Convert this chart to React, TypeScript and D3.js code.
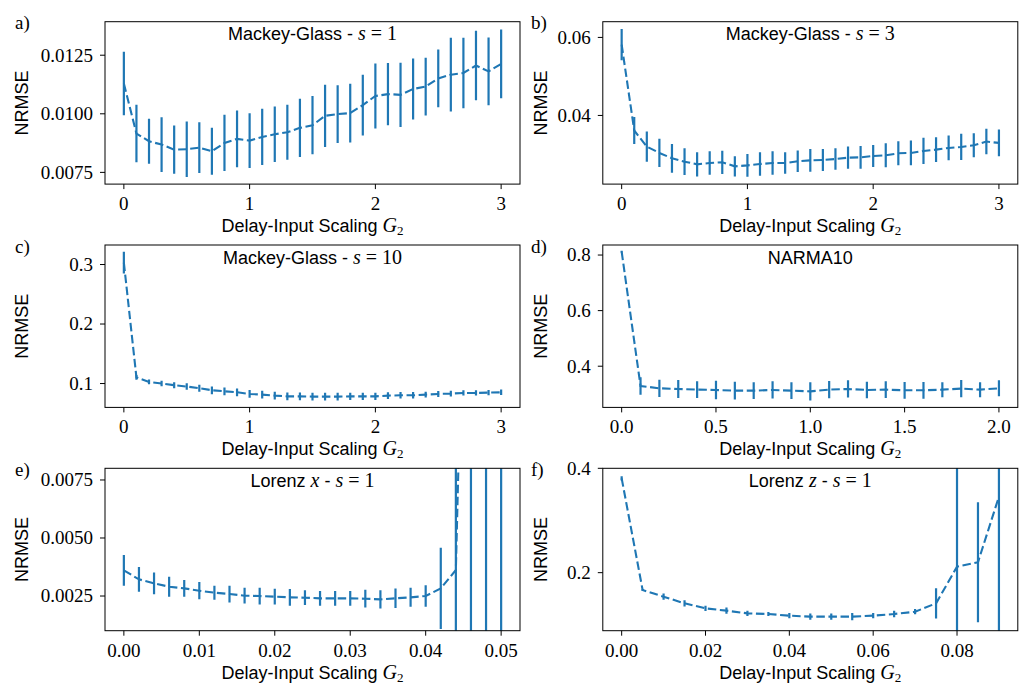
import React from 'react';
import * as d3 from 'd3';

// ---------- data ----------
const g2Mg = [0, 0.1, 0.2, 0.3, 0.4, 0.5, 0.6, 0.7, 0.8, 0.9, 1.0, 1.1, 1.2, 1.3, 1.4, 1.5, 1.6, 1.7, 1.8, 1.9, 2.0, 2.1, 2.2, 2.3, 2.4, 2.5, 2.6, 2.7, 2.8, 2.9, 3.0];

const mg1Mean = [0.01129, 0.009157, 0.008829, 0.008686, 0.008471, 0.008486, 0.008557, 0.0084, 0.008757, 0.008929, 0.008857, 0.009014, 0.009129, 0.009214, 0.0094, 0.009514, 0.009914, 0.009986, 0.01003, 0.01037, 0.01076, 0.01084, 0.01081, 0.01106, 0.01116, 0.01151, 0.01167, 0.01174, 0.01206, 0.01181, 0.01213];
const mg1Err = [0.001357, 0.001229, 0.000957, 0.001171, 0.001029, 0.001186, 0.001086, 0.001, 0.0012, 0.001214, 0.001171, 0.0012, 0.001186, 0.001171, 0.001243, 0.001243, 0.001329, 0.001229, 0.001257, 0.0013, 0.001386, 0.001329, 0.001371, 0.0013, 0.001229, 0.001229, 0.001571, 0.0015, 0.001486, 0.001443, 0.001471];

const mg3Mean = [0.05816, 0.03614, 0.03202, 0.03039, 0.02901, 0.02815, 0.02747, 0.02781, 0.02798, 0.02695, 0.02721, 0.02755, 0.02781, 0.02781, 0.02824, 0.0285, 0.02858, 0.02884, 0.02918, 0.02927, 0.02961, 0.02979, 0.0303, 0.03039, 0.0309, 0.03124, 0.03167, 0.03193, 0.03236, 0.0333, 0.03296];
const mg3Err = [0.00399, 0.00343, 0.00386, 0.00361, 0.00369, 0.00343, 0.00309, 0.003, 0.003, 0.00258, 0.00292, 0.003, 0.003, 0.00275, 0.00275, 0.00292, 0.00283, 0.00275, 0.00283, 0.00292, 0.00283, 0.00309, 0.00309, 0.00318, 0.00335, 0.00318, 0.00318, 0.00335, 0.00309, 0.00326, 0.00343];

const mg10Mean = [0.3031, 0.1102, 0.1028, 0.1, 0.0972, 0.0949, 0.0921, 0.0887, 0.087, 0.0853, 0.0825, 0.0814, 0.0797, 0.0785, 0.0785, 0.078, 0.078, 0.078, 0.0785, 0.0785, 0.0785, 0.0797, 0.0802, 0.0802, 0.0814, 0.0825, 0.0831, 0.0842, 0.0842, 0.0847, 0.0853];
const mg10Err = [0.0184, 0.004, 0.004, 0.0045, 0.005, 0.0055, 0.006, 0.0065, 0.0065, 0.0065, 0.0065, 0.0065, 0.0065, 0.0065, 0.0065, 0.0065, 0.0065, 0.0065, 0.0062, 0.006, 0.006, 0.0058, 0.0055, 0.0055, 0.005, 0.005, 0.0048, 0.0045, 0.0045, 0.0045, 0.0045];

const g2Narma = [0, 0.1, 0.2, 0.3, 0.4, 0.5, 0.6, 0.7, 0.8, 0.9, 1.0, 1.1, 1.2, 1.3, 1.4, 1.5, 1.6, 1.7, 1.8, 1.9, 2.0];
const narmaMean = [0.812, 0.3289, 0.3205, 0.3181, 0.3157, 0.3145, 0.312, 0.312, 0.3145, 0.312, 0.3096, 0.3157, 0.3181, 0.3145, 0.3157, 0.3133, 0.3133, 0.3157, 0.3193, 0.3157, 0.3205];
const narmaErr = [0.003, 0.0313, 0.031, 0.0325, 0.03, 0.033, 0.032, 0.03, 0.031, 0.03, 0.033, 0.031, 0.031, 0.03, 0.03, 0.03, 0.03, 0.027, 0.031, 0.027, 0.029];

const g2Lx = [0, 0.002, 0.004, 0.006, 0.008, 0.01, 0.012, 0.014, 0.016, 0.018, 0.02, 0.022, 0.024, 0.026, 0.028, 0.03, 0.032, 0.034, 0.036, 0.038, 0.04, 0.042, 0.044, 0.046, 0.048, 0.05];
const lxMean = [0.003606, 0.003218, 0.003046, 0.002902, 0.00283, 0.00273, 0.002644, 0.002586, 0.002514, 0.0025, 0.002471, 0.002443, 0.002428, 0.0024, 0.0024, 0.0024, 0.002385, 0.002356, 0.0024, 0.002443, 0.0025, 0.00283, 0.003621, 0.03, 0.06, 0.09];
const lxErr = [0.00066, 0.00053, 0.00047, 0.00043, 0.00036, 0.00037, 0.0003, 0.00036, 0.00034, 0.00036, 0.00034, 0.00036, 0.00032, 0.00032, 0.00032, 0.00032, 0.00038, 0.00039, 0.00042, 0.00041, 0.00046, 0.00175, 0.008, 0.05, 0.08, 0.12];

const g2Lz = [0, 0.005, 0.01, 0.015, 0.02, 0.025, 0.03, 0.035, 0.04, 0.045, 0.05, 0.055, 0.06, 0.065, 0.07, 0.075, 0.08, 0.085, 0.09];
const lzMean = [0.3808, 0.1668, 0.154, 0.1412, 0.1316, 0.1272, 0.122, 0.1208, 0.1176, 0.1157, 0.1157, 0.1157, 0.1176, 0.1208, 0.1252, 0.1412, 0.2115, 0.22, 0.3457];
const lzErr = [0.004, 0.002, 0.006, 0.006, 0.005, 0.006, 0.005, 0.004, 0.005, 0.006, 0.006, 0.007, 0.005, 0.006, 0.005, 0.0288, 0.2, 0.115, 0.3];

const ticksX03 = [0, 1, 2, 3];
const labelsX03 = ['0', '1', '2', '3'];
const ticksXNarma = [0, 0.5, 1, 1.5, 2];
const labelsXNarma = ['0.0', '0.5', '1.0', '1.5', '2.0'];
const ticksXLx = [0, 0.01, 0.02, 0.03, 0.04, 0.05];
const labelsXLx = ['0.00', '0.01', '0.02', '0.03', '0.04', '0.05'];
const ticksXLz = [0, 0.02, 0.04, 0.06, 0.08];
const labelsXLz = ['0.00', '0.02', '0.04', '0.06', '0.08'];

const ticksYA = [0.0075, 0.01, 0.0125];
const labelsYA = ['0.0075', '0.0100', '0.0125'];
const ticksYB = [0.04, 0.06];
const labelsYB = ['0.04', '0.06'];
const ticksYC = [0.1, 0.2, 0.3];
const labelsYC = ['0.1', '0.2', '0.3'];
const ticksYD = [0.4, 0.6, 0.8];
const labelsYD = ['0.4', '0.6', '0.8'];
const ticksYE = [0.0025, 0.005, 0.0075];
const labelsYE = ['0.0025', '0.0050', '0.0075'];
const ticksYF = [0.2, 0.4];
const labelsYF = ['0.2', '0.4'];

// ---------- styling / layout ----------
const BLUE = '#1f77b4';
const SANS = '"Liberation Sans", Arial, sans-serif';
const SERIF = '"Liberation Serif", "Times New Roman", serif';
const FS_SANS = 18;
const FS_SERIF = 19;

const COL_LEFT = [105, 602.8];
const COL_LABEL_X = [15, 531];
const YLABEL_X = [21.5, 540];
const ROW_TOP = [21.7, 245, 468.3];
const PW = 415;
const PH = 162.4;

type Title = { sans: string; math?: string; rest?: string };

type PanelSpec = {
  id: string;
  letter: string;
  col: number;
  row: number;
  title: Title;
  xs: number[];
  mean: number[];
  err: number[];
  xDomain: [number, number];
  yDomain: [number, number];
  xTicks: number[];
  xLabels: string[];
  yTicks: number[];
  yLabels: string[];
};

const panels: PanelSpec[] = [
  { id: 'a', letter: 'a)', col: 0, row: 0, title: { sans: 'Mackey-Glass - ', math: 's', rest: ' = 1' }, xs: g2Mg, mean: mg1Mean, err: mg1Err, xDomain: [-0.15, 3.15], yDomain: [0.007, 0.01393], xTicks: ticksX03, xLabels: labelsX03, yTicks: ticksYA, yLabels: labelsYA },
  { id: 'b', letter: 'b)', col: 1, row: 0, title: { sans: 'Mackey-Glass - ', math: 's', rest: ' = 3' }, xs: g2Mg, mean: mg3Mean, err: mg3Err, xDomain: [-0.15, 3.15], yDomain: [0.0224, 0.06403], xTicks: ticksX03, xLabels: labelsX03, yTicks: ticksYB, yLabels: labelsYB },
  { id: 'c', letter: 'c)', col: 0, row: 1, title: { sans: 'Mackey-Glass - ', math: 's', rest: ' = 10' }, xs: g2Mg, mean: mg10Mean, err: mg10Err, xDomain: [-0.15, 3.15], yDomain: [0.0599, 0.3328], xTicks: ticksX03, xLabels: labelsX03, yTicks: ticksYC, yLabels: labelsYC },
  { id: 'd', letter: 'd)', col: 1, row: 1, title: { sans: 'NARMA10' }, xs: g2Narma, mean: narmaMean, err: narmaErr, xDomain: [-0.1, 2.1], yDomain: [0.2518, 0.8361], xTicks: ticksXNarma, xLabels: labelsXNarma, yTicks: ticksYD, yLabels: labelsYD },
  { id: 'e', letter: 'e)', col: 0, row: 2, title: { sans: 'Lorenz ', math: 'x', rest: '' }, xs: g2Lx, mean: lxMean, err: lxErr, xDomain: [-0.0025, 0.0525], yDomain: [0.001006, 0.008003], xTicks: ticksXLx, xLabels: labelsXLx, yTicks: ticksYE, yLabels: labelsYE },
  { id: 'f', letter: 'f)', col: 1, row: 2, title: { sans: 'Lorenz ', math: 'z', rest: '' }, xs: g2Lz, mean: lzMean, err: lzErr, xDomain: [-0.0045, 0.0945], yDomain: [0.0888, 0.4], xTicks: ticksXLz, xLabels: labelsXLz, yTicks: ticksYF, yLabels: labelsYF },
];

function TitleText({ t, cx, y }: { t: Title; cx: number; y: number }) {
  const lorenz = t.sans.startsWith('Lorenz');
  return (
    <text x={cx} y={y} textAnchor="middle" fontSize={FS_SANS} fill="#000">
      <tspan fontFamily={SANS}>{t.sans}</tspan>
      {t.math && <tspan fontFamily={SERIF} fontStyle="italic" fontSize={FS_SERIF + 1}>{t.math}</tspan>}
      {lorenz && <tspan fontFamily={SANS}>{' - '}</tspan>}
      {lorenz && <tspan fontFamily={SERIF} fontStyle="italic" fontSize={FS_SERIF + 1}>s</tspan>}
      {lorenz && <tspan fontFamily={SERIF} fontSize={FS_SERIF + 1}>{' = 1'}</tspan>}
      {!lorenz && t.rest && <tspan fontFamily={SERIF} fontSize={FS_SERIF + 1}>{t.rest}</tspan>}
    </text>
  );
}

function Panel({ p }: { p: PanelSpec }) {
  const left = COL_LEFT[p.col];
  const top = ROW_TOP[p.row];
  const x = d3.scaleLinear().domain(p.xDomain).range([left, left + PW]);
  const y = d3.scaleLinear().domain(p.yDomain).range([top + PH, top]);
  const line = d3
    .line<number>()
    .x((_, i) => x(p.xs[i]))
    .y((d) => y(d));
  const clipId = `clip-${p.id}`;
  const bottom = top + PH;
  return (
    <g>
      <defs>
        <clipPath id={clipId}>
          <rect x={left} y={top} width={PW} height={PH} />
        </clipPath>
      </defs>
      <g clipPath={`url(#${clipId})`}>
        <path d={line(p.mean) || ''} fill="none" stroke={BLUE} strokeWidth={2.1} strokeDasharray="8.5,3.6" />
        {p.mean.map((m, i) => (
          <line key={i} x1={x(p.xs[i])} x2={x(p.xs[i])} y1={Math.min(y(m - p.err[i]), 5000)} y2={Math.max(y(m + p.err[i]), -5000)} stroke={BLUE} strokeWidth={2.2} />
        ))}
      </g>
      <rect x={left} y={top} width={PW} height={PH} fill="none" stroke="#000" strokeWidth={1} />
      {p.xTicks.map((t, i) => (
        <g key={'xt' + i}>
          <line x1={x(t)} x2={x(t)} y1={bottom} y2={bottom + 5} stroke="#000" strokeWidth={1} />
          <text x={x(t)} y={bottom + 26} textAnchor="middle" fontFamily={SERIF} fontSize={FS_SERIF}>{p.xLabels[i]}</text>
        </g>
      ))}
      {p.yTicks.map((t, i) => (
        <g key={'yt' + i}>
          <line x1={left - 5} x2={left} y1={y(t)} y2={y(t)} stroke="#000" strokeWidth={1} />
          <text x={left - 12} y={y(t) + 6.3} textAnchor="end" fontFamily={SERIF} fontSize={FS_SERIF}>{p.yLabels[i]}</text>
        </g>
      ))}
      <TitleText t={p.title} cx={left + PW / 2} y={top + 18.5} />
      <text x={left + PW / 2} y={bottom + 48} textAnchor="middle" fontSize={FS_SANS}>
        <tspan fontFamily={SANS}>{'Delay-Input Scaling '}</tspan>
        <tspan fontFamily={SERIF} fontStyle="italic" fontSize={FS_SERIF + 1}>G</tspan>
        <tspan fontFamily={SERIF} fontSize={13} dy={3}>2</tspan>
      </text>
      <text transform={`translate(${YLABEL_X[p.col] + 6.5},${top + PH / 2}) rotate(-90)`} textAnchor="middle" fontFamily={SANS} fontSize={FS_SANS}>NRMSE</text>
      <text x={COL_LABEL_X[p.col]} y={ROW_TOP[p.row] + 7.5} fontFamily={SERIF} fontSize={FS_SERIF}>{p.letter}</text>
    </g>
  );
}

export default function App() {
  return (
    <svg width={1025} height={686} viewBox="0 0 1025 686" style={{ position: 'absolute', left: 0, top: 0, background: '#fff' }}>
      <rect x={0} y={0} width={1025} height={686} fill="#fff" />
      {panels.map((p) => (
        <Panel key={p.id} p={p} />
      ))}
    </svg>
  );
}
